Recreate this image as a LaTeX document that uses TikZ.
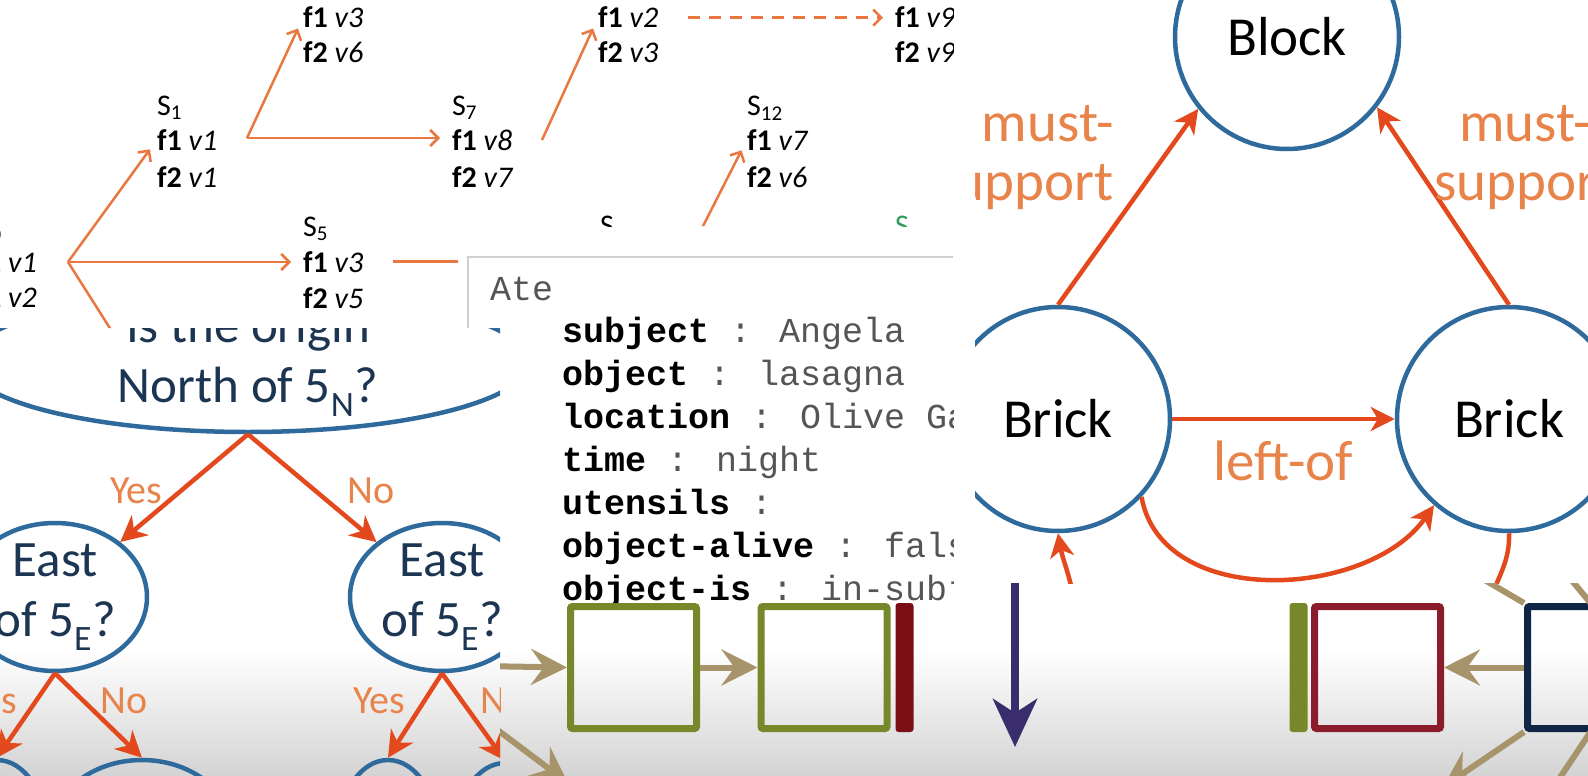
\documentclass[tikz,border=0pt]{standalone}
\usepackage{fontspec}
\setmainfont{Carlito}
\newfontfamily\slotfont{Liberation Mono}
\usepackage{tikz}
\usetikzlibrary{positioning, arrows.meta, shapes.geometric}
\definecolor{nodeblue}{HTML}{2F6A9C}
\definecolor{navytext}{HTML}{1C3552}
\definecolor{redorange}{HTML}{E4491D}
\definecolor{lightorange}{HTML}{E9773F}
\definecolor{labelorange}{HTML}{E8834A}
\definecolor{tanline}{HTML}{A8946A}
\definecolor{olivebox}{HTML}{76882A}
\definecolor{maroonbar}{HTML}{7C0F16}
\definecolor{winebox}{HTML}{8A1C2C}
\definecolor{deepnavy}{HTML}{0F2745}
\definecolor{indigoarrow}{HTML}{3A2D6C}
\definecolor{slotgrey}{HTML}{555555}
\definecolor{boxgrey}{HTML}{CFCFCF}
\definecolor{stategreen}{HTML}{2E9E5B}
\newcommand{\featval}[2]{\textbf{#1} \textit{#2}}

\begin{document}
\begin{tikzpicture}[x=1pt, y=-1pt,
    rowtxt/.style={font=\fontsize{30}{36}\selectfont, inner sep=0pt, anchor=base west},
    thinarrow/.style={draw=lightorange, line width=2.5pt,
      -{Straight Barb[length=8pt, width=16pt]}, shorten >=12pt},
    slottxt/.style={font=\slotfont\fontsize{35}{43}\selectfont, inner sep=0pt, anchor=base west},
    decnode/.style={ellipse, draw=nodeblue, line width=4.5pt, inner sep=0pt},
    dectext/.style={text=navytext, align=center, inner sep=0pt,
      font=\fontsize{51}{60}\selectfont},
    decision/.style={draw=redorange, line width=4.5pt,
      -{Stealth[length=26pt, width=26pt, inset=8pt]}},
    choicelbl/.style={text=labelorange, inner sep=0pt, font=\fontsize{40}{44}\selectfont},
    thing/.style={circle, draw=nodeblue, line width=4.5pt, minimum size=224pt,
      inner sep=0pt, font=\fontsize{55}{60}\selectfont},
    relation/.style={draw=redorange, line width=4.5pt,
      -{Stealth[length=24pt, width=24pt, inset=7pt]}},
    relabel/.style={text=labelorange, inner sep=0pt, font=\fontsize{57}{60}\selectfont},
    slotbox/.style={rectangle, line width=7pt, minimum width=126pt, minimum height=122pt,
      inner sep=0pt, rounded corners=2pt},
    barnode/.style={rectangle, minimum width=18pt, minimum height=129pt, inner sep=0pt,
      rounded corners=3pt},
    tanarrow/.style={draw=tanline, line width=6pt,
      -{Stealth[length=36pt, width=36pt, inset=13pt]}}]

  \useasboundingbox (0,0) rectangle (1588,776);
  \fill[white] (0,0) rectangle (1588,776);
  \shade[top color=white, bottom color=black!17] (0,650) rectangle (1588,776);

  % search tree of states
  \begin{scope}
    \clip (0,0) -- (953,0) -- (953,226) -- (458,226) -- (458,328) -- (0,328) -- cycle;
    \node[rowtxt, anchor=base east] (s0a) at (37,272) {\featval{f1}{v1}};
    \node[rowtxt, anchor=base east] (s0b) at (37,307) {\featval{f2}{v2}};
    \node[rowtxt] (s0lab) at ([yshift=36pt]s0a.base west) {S\textsubscript{0}};
    \node[rowtxt] (s1lab) at (157,115) {S\textsubscript{1}};
    \node[rowtxt] (s1a) at (157,150) {\featval{f1}{v1}};
    \node[rowtxt] (s1b) at (157,187) {\featval{f2}{v1}};
    \node[rowtxt] (s3a) at (303,28) {\featval{f1}{v3}};
    \node[rowtxt] (s3b) at (303,63) {\featval{f2}{v6}};
    \node[rowtxt] (s7lab) at (452,115) {S\textsubscript{7}};
    \node[rowtxt] (s7a) at (452,150) {\featval{f1}{v8}};
    \node[rowtxt] (s7b) at (452,187) {\featval{f2}{v7}};
    \node[rowtxt] (s5lab) at (303,236) {S\textsubscript{5}};
    \node[rowtxt] (s5a) at (303,272) {\featval{f1}{v3}};
    \node[rowtxt] (s5b) at (303,308) {\featval{f2}{v5}};
    \node[rowtxt] (s8a) at (598,28) {\featval{f1}{v2}};
    \node[rowtxt] (s8b) at (598,63) {\featval{f2}{v3}};
    \node[rowtxt] (s9a) at (895,28) {\featval{f1}{v9}};
    \node[rowtxt] (s9b) at (895,63) {\featval{f2}{v9}};
    \node[rowtxt] (s12lab) at (747,115) {S\textsubscript{12}};
    \node[rowtxt] (s12a) at (747,150) {\featval{f1}{v7}};
    \node[rowtxt] (s12b) at (747,187) {\featval{f2}{v6}};
    \node[rowtxt] (s6lab) at (600,235) {S};
    \node[rowtxt, text=stategreen] (s13lab) at (895,235) {S};

    \coordinate (fork0) at (68,262);
    \coordinate (fork1) at (247,138);
    \coordinate (from7) at (542,140);
    \coordinate (from12) at (700,232);
    \coordinate (down0) at (125,352);
    \coordinate (on5) at (520,262);
    \draw[thinarrow] (fork0) -- (s1a.west);
    \draw[thinarrow] (fork0) -- (fork0 -| s5a.west);
    \draw[thinarrow, -, shorten >=0pt] (fork0) -- (down0);
    \draw[thinarrow] (fork1) -- (s3a.west);
    \draw[thinarrow] (fork1) -- (fork1 -| s7a.west);
    \draw[thinarrow] (from7) -- (s8a.west);
    \draw[thinarrow, dash pattern=on 12pt off 9pt, shorten <=30pt] (s8a.east) -- (s8a.east -| s9a.west);
    \draw[thinarrow] (from12) -- (s12a.west);
    \draw[thinarrow, -, shorten <=30pt, shorten >=0pt] (s5a.east) -- (s5a.east -| on5);
  \end{scope}

  % event frame
  \begin{scope}
    \clip (458,226) -- (953,226) -- (953,602) -- (500,602) -- (500,328) -- (458,328) -- cycle;
    \draw[boxgrey, line width=2pt] (468,257) rectangle (1000,800);
    \node[slottxt, text=slotgrey] (ate) at (490,300) {Ate};
    \foreach \k/\v [count=\i] in {subject/Angela, object/lasagna, location/Olive Ga,
        time/night, utensils/{}, object-alive/fals, object-is/in-subj}
      \node[slottxt] (slot\i) at (562, {342+43*(\i-1)}) {\textbf{\k} \textcolor{slotgrey}{: \v}};
  \end{scope}

  % decision tree
  \begin{scope}
    \clip (0,328) rectangle (500,776);
    \node[decnode, minimum width=562pt, minimum height=140pt] (origin) at (248,362) {};
    \node[dectext] (origintxt) at (origin.center) {Is the origin\\North of 5\textsubscript{N}?};
    \node[decnode, minimum width=184pt, minimum height=148pt] (eastl) at (55,597) {};
    \node[dectext] (eastltxt) at (eastl.center) {East\\of 5\textsubscript{E}?};
    \node[decnode, minimum width=184pt, minimum height=148pt] (eastr) at (442,597) {};
    \node[dectext] (eastrtxt) at (eastr.center) {East\\of 5\textsubscript{E}?};
    \node[decnode, minimum width=100pt, minimum height=150pt] (leafa) at (-3,835) {};
    \node[decnode, minimum width=184pt, minimum height=150pt] (leafb) at (142,835) {};
    \node[decnode, minimum width=100pt, minimum height=150pt] (leafc) at (388,835) {};
    \node[decnode, minimum width=100pt, minimum height=150pt] (leafd) at (505,838) {};
    \draw[decision] (origin.south) -- (eastl);
    \draw[decision] (origin.south) -- (eastr);
    \draw[decision] (eastl.south) -- (leafa.north);
    \draw[decision] (eastl.south) -- (leafb.north);
    \draw[decision] (eastr.south) -- (leafc.north);
    \draw[decision] (eastr.south) -- (leafd.north);
    \node[choicelbl, anchor=base west] (yes0) at (110,503) {Yes};
    \node[choicelbl, anchor=base west] (no0) at (347,503) {No};
    \node[choicelbl, anchor=base east] (yes1) at (17,713) {Yes};
    \node[choicelbl, anchor=base west] (no1) at (100,713) {No};
    \node[choicelbl, anchor=base west] (yes2) at (353,713) {Yes};
    \node[choicelbl, anchor=base west] (no2) at (480,713) {No};
  \end{scope}

  % chain of boxes
  \begin{scope}
    \clip (500,602) rectangle (953,776);
    \node[slotbox, draw=olivebox] (gboxa) at (633.5,667.5) {};
    \node[slotbox, draw=olivebox] (gboxb) at (824,667.5) {};
    \node[barnode, fill=maroonbar] (mbar) at (904.5,667.5) {};
    \coordinate (ina) at (480,666);
    \coordinate (inb) at (475,713);
    \coordinate (outb) at (568,783);
    \draw[tanarrow] (ina) -- (gboxa.west);
    \draw[tanarrow] (gboxa.east) -- (gboxb.west);
    \draw[tanarrow] (inb) -- (outb);
  \end{scope}

  % block world
  \begin{scope}
    \clip (975,0) rectangle (1588,583);
    \node[thing] (block) at (1287,37) {Block};
    \node[thing] (lbrick) at (1058,419) {Brick};
    \node[thing] (rbrick) at (1509,419) {Brick};
    \draw[relation] (lbrick.north) -- (block.219);
    \draw[relation] (rbrick.north) -- (block.322);
    \draw[relation] (lbrick.east) -- (rbrick.west)
      node[relabel, midway, below=20pt] (leftof) {left-of};
    \draw[relation] (lbrick.-43) to[out=-80, in=-125] (rbrick.-131);
    \coordinate (lbin) at (1074,600);
    \coordinate (rbout) at (1490,600);
    \draw[relation] (lbin) to[out=100, in=-80] (lbrick.south);
    \draw[relation, -] (rbrick.south) to[out=-88, in=70] (rbout);
    \node[relabel, anchor=base east] (mustl1) at (1114,141) {must-};
    \node[relabel, anchor=base east] (mustl2) at (1114,200) {support};
    \node[relabel, anchor=base] (mustr1) at (1525,141) {must-};
    \node[relabel, anchor=base] (mustr2) at (1525,200) {support};
  \end{scope}

  % boxes below
  \begin{scope}
    \clip (975,583) rectangle (1588,776);
    \coordinate (downtop) at (1015,570);
    \coordinate (downend) at (1015,747);
    \draw[indigoarrow, line width=8pt, -{Stealth[length=48pt, width=44pt, inset=14pt]}]
      (downtop) -- (downend);
    \node[barnode, fill=olivebox] (gbar) at (1298.5,667.5) {};
    \node[slotbox, draw=winebox] (rbox) at (1377.5,667.5) {};
    \node[slotbox, draw=deepnavy] (bbox) at (1590.5,667.5) {};
    \coordinate (upa) at (1459,565);
    \coordinate (upb) at (1545,548);
    \coordinate (dla) at (1443,787);
    \coordinate (dlb) at (1555,785);
    \draw[tanarrow] (bbox.west) -- (rbox.east);
    \draw[tanarrow, -] (bbox.north west) -- (upa);
    \draw[tanarrow, -] (bbox.north) -- (upb);
    \draw[tanarrow] (bbox.south west) -- (dla);
    \draw[tanarrow, -] (bbox.south) -- (dlb);
  \end{scope}
\end{tikzpicture}
\end{document}
